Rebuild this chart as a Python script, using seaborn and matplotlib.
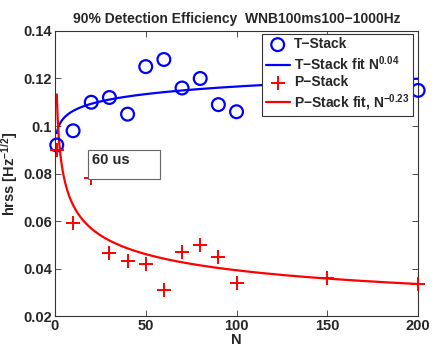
"""90% detection efficiency vs N: T-Stack / P-Stack points and power-law fits."""
import matplotlib
matplotlib.use("Agg")
import matplotlib.pyplot as plt
import numpy as np
import pandas as pd
import seaborn as sns

# --- dane ---
n_vals = [1, 10, 20, 30, 40, 50, 60, 70, 80, 90, 100, 150, 200]
t_stack = [0.092, 0.098, 0.110, 0.112, 0.105, 0.125, 0.128, 0.116, 0.120, 0.109, 0.106, 0.118, 0.115]
p_stack = [0.090, 0.059, 0.078, 0.0465, 0.043, 0.042, 0.031, 0.047, 0.050, 0.045, 0.034, 0.036, 0.0335]

# parametry dopasowania a * N^b (wykładniki z legendy)
t_fit_amp, t_fit_exp = 0.097, 0.04
p_fit_amp, p_fit_exp = 0.1133, -0.23

title = "90% Detection Efficiency  WNB100ms100\u22121000Hz"
x_ticks = [0, 50, 100, 150, 200]
y_ticks = [0.02, 0.04, 0.06, 0.08, 0.1, 0.12, 0.14]
y_tick_labels = ["0.02", "0.04", "0.06", "0.08", "0.1", "0.12", "0.14"]

sns.set_style("ticks")
plt.rcParams["font.family"] = ["Liberation Sans", "DejaVu Sans"]
plt.rcParams["font.weight"] = "bold"
plt.rcParams["mathtext.fontset"] = "custom"
plt.rcParams["mathtext.rm"] = "Liberation Sans:bold"
plt.rcParams["mathtext.bf"] = "Liberation Sans:bold"
plt.rcParams["mathtext.default"] = "bf"

pts = pd.DataFrame({"N": n_vals, "T": t_stack, "P": p_stack})
grid = np.linspace(1, 200, 800)
fits = pd.DataFrame({
    "N": grid,
    "T": t_fit_amp * grid ** t_fit_exp,
    "P": p_fit_amp * grid ** p_fit_exp,
})

fig = plt.figure(figsize=(4.36, 3.52), dpi=100)
ax = fig.add_axes([0.126, 0.102, 0.833, 0.81])

sns.scatterplot(data=pts, x="N", y="T", ax=ax, marker="o", s=85,
                facecolor="none", edgecolor="#0000ff", linewidth=1.6,
                label="T\u2212Stack", zorder=3, clip_on=False)
sns.lineplot(data=fits, x="N", y="T", ax=ax, color="#0000ff", linewidth=1.6,
             label="T\u2212Stack fit N$^{0.04}$", zorder=2)
sns.scatterplot(data=pts, x="N", y="P", ax=ax, marker="+", s=105,
                color="#ff0000", linewidth=1.4, label="P\u2212Stack", zorder=3,
                clip_on=False)
sns.lineplot(data=fits, x="N", y="P", ax=ax, color="#ff0000", linewidth=1.6,
             label="P\u2212Stack fit, N$^{-0.23}$", zorder=2)

ax.set_xlim(0, 200)
ax.set_ylim(0.02, 0.14)
ax.set_xticks(x_ticks)
ax.set_xticklabels([str(t) for t in x_ticks])
ax.set_yticks(y_ticks)
ax.set_yticklabels(y_tick_labels)
ax.tick_params(direction="in", top=True, right=True, labelsize=10.5,
               length=4, width=0.6, color="#333333", pad=2)
for sp in ax.spines.values():
    sp.set_linewidth(0.8)
    sp.set_color("#333333")

ax.set_xlabel("N", fontsize=10.5, fontweight="bold", labelpad=0)
ax.set_ylabel("hrss [Hz$^{-1/2}$]", fontsize=10.5, fontweight="bold")
ax.yaxis.set_label_coords(-0.095, 0.5)
ax.set_title(title, fontsize=10, fontweight="bold", pad=6)

# pole tekstowe "60 us"
ax.add_patch(plt.Rectangle((18.2, 0.0777), 39.7, 0.0122, transform=ax.transData,
                           facecolor="white", edgecolor="#666666", linewidth=0.8,
                           zorder=4))
ax.text(20.5, 0.0858, "60 us", fontsize=10.5, fontweight="bold", va="center",
        ha="left", zorder=5)

leg = ax.legend(loc="upper right", bbox_to_anchor=(0.985, 0.99), fontsize=10,
                frameon=True, fancybox=False, framealpha=1, edgecolor="#333333",
                borderpad=0.25, labelspacing=0.2, handlelength=1.7,
                handletextpad=0.3, borderaxespad=0)
leg.get_frame().set_linewidth(0.8)
leg.set_zorder(6)

fig.savefig("out.png", dpi=100)
plt.close(fig)
